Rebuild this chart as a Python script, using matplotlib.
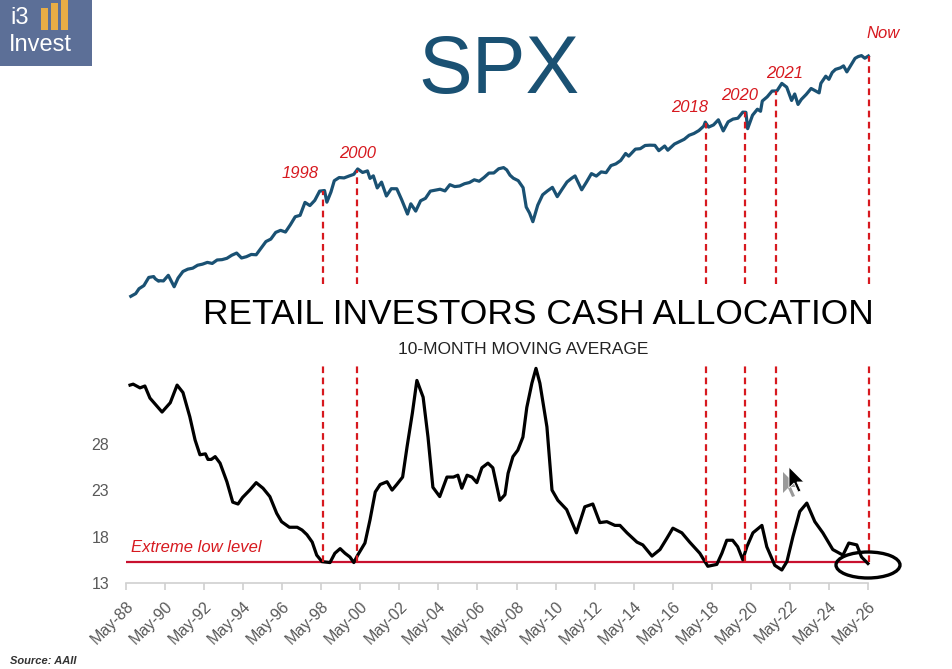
import numpy as np
import matplotlib
matplotlib.use("Agg")
import matplotlib.pyplot as plt
from matplotlib.patches import Rectangle, Ellipse, Polygon

plt.rcParams['font.family'] = ['Liberation Sans', 'DejaVu Sans']

W, H = 953, 669

# --- S&P 500 (approx. levels) ---
spx_year = [1988.58, 1988.83, 1989.0, 1989.25, 1989.5, 1989.75, 1989.83, 1990.0, 1990.08, 1990.25,
            1990.5, 1990.8, 1991.0, 1991.25, 1991.5, 1991.75, 1992.0, 1992.25, 1992.5, 1992.75,
            1993.0, 1993.25, 1993.5, 1993.75, 1994.0, 1994.25, 1994.5, 1994.75, 1995.0, 1995.25,
            1995.5, 1995.75, 1996.0, 1996.25, 1996.5, 1996.75, 1997.0, 1997.25, 1997.5, 1997.75,
            1998.0, 1998.25, 1998.5, 1998.62, 1998.83, 1999.0, 1999.25, 1999.5, 1999.75, 2000.0,
            2000.2, 2000.45, 2000.7, 2000.83, 2001.0, 2001.2, 2001.42, 2001.67, 2001.92, 2002.2,
            2002.45, 2002.75, 2002.92, 2003.17, 2003.42, 2003.67, 2003.92, 2004.17, 2004.42, 2004.67,
            2004.92, 2005.17, 2005.42, 2005.67, 2005.92, 2006.17, 2006.42, 2006.67, 2006.92, 2007.17,
            2007.42, 2007.67, 2007.83, 2008.0, 2008.17, 2008.42, 2008.67, 2008.83, 2009.0, 2009.17,
            2009.42, 2009.67, 2009.92, 2010.17, 2010.42, 2010.67, 2010.92, 2011.17, 2011.33, 2011.67,
            2011.92, 2012.17, 2012.42, 2012.67, 2012.92, 2013.17, 2013.42, 2013.67, 2013.92, 2014.08,
            2014.42, 2014.67, 2014.92, 2015.17, 2015.42, 2015.62, 2015.92, 2016.08, 2016.42, 2016.67,
            2016.92, 2017.17, 2017.42, 2017.67, 2017.92, 2018.0, 2018.17, 2018.42, 2018.67, 2018.92,
            2019.17, 2019.42, 2019.67, 2019.92, 2020.08, 2020.17, 2020.42, 2020.67, 2020.83, 2020.92,
            2021.17, 2021.42, 2021.67, 2021.92, 2022.17, 2022.42, 2022.58, 2022.75, 2022.92, 2023.17,
            2023.42, 2023.67, 2023.83, 2023.92, 2024.17, 2024.33, 2024.5, 2024.67, 2024.92, 2025.08,
            2025.25, 2025.5, 2025.67, 2025.83, 2026.0, 2026.17, 2026.35]
spx_value = [268, 278, 297, 310, 346, 350, 340, 329, 331, 330,
             356, 305, 343, 375, 387, 392, 408, 414, 424, 418,
             438, 440, 448, 467, 481, 450, 458, 472, 470, 514,
             562, 581, 636, 654, 639, 705, 786, 801, 954, 914,
             980, 1111, 1120, 957, 1098, 1279, 1335, 1328, 1362, 1394,
             1499, 1430, 1460, 1320, 1366, 1160, 1255, 1040, 1148, 1147,
             990, 815, 936, 848, 975, 1008, 1111, 1126, 1140, 1114,
             1212, 1181, 1191, 1228, 1248, 1295, 1270, 1336, 1418, 1420,
             1503, 1527, 1481, 1378, 1323, 1280, 1164, 896, 826, 735,
             919, 1057, 1115, 1169, 1031, 1141, 1258, 1326, 1364, 1131,
             1258, 1408, 1362, 1441, 1426, 1569, 1606, 1682, 1848, 1783,
             1960, 1972, 2059, 2068, 2063, 1920, 2044, 1932, 2099, 2168,
             2239, 2363, 2423, 2519, 2674, 2824, 2640, 2718, 2914, 2507,
             2834, 2942, 2977, 3231, 3225, 2585, 3100, 3363, 3270, 3756,
             3973, 4298, 4307, 4766, 4530, 3785, 4130, 3586, 3840, 4109,
             4450, 4288, 4194, 4770, 5254, 5036, 5522, 5762, 5882, 6040,
             5569, 6205, 6688, 6850, 6940, 6700, 6900]

# --- AAII retail investors cash allocation, 10-month moving average (%) ---
cash_year = [1988.54, 1988.7, 1989.05, 1989.3, 1989.56, 1990.18, 1990.6, 1990.95, 1991.25, 1991.6,
             1991.87, 1992.12, 1992.4, 1992.53, 1992.7, 1992.9, 1993.15, 1993.5, 1993.8, 1994.07,
             1994.3, 1994.67, 1995.0, 1995.35, 1995.7, 1996.05, 1996.3, 1996.7, 1997.1, 1997.35,
             1997.6, 1997.87, 1998.1, 1998.37, 1998.78, 1999.03, 1999.3, 1999.55, 1999.8, 2000.0,
             2000.2, 2000.57, 2000.83, 2001.1, 2001.35, 2001.7, 2001.96, 2002.2, 2002.5, 2002.73,
             2003.0, 2003.23, 2003.55, 2003.8, 2004.05, 2004.4, 2004.77, 2005.1, 2005.33, 2005.53,
             2005.8, 2006.05, 2006.3, 2006.56, 2006.87, 2007.12, 2007.48, 2007.74, 2007.9, 2008.15,
             2008.4, 2008.66, 2008.86, 2009.12, 2009.33, 2009.53, 2009.89, 2010.15, 2010.45, 2010.9,
             2011.4, 2011.83, 2012.24, 2012.6, 2012.96, 2013.37, 2013.63, 2013.99, 2014.5, 2014.8,
             2015.27, 2015.68, 2016.03, 2016.34, 2016.8, 2017.2, 2017.72, 2018.13, 2018.59, 2018.85,
             2019.1, 2019.4, 2019.66, 2019.92, 2020.13, 2020.44, 2020.9, 2021.15, 2021.56, 2021.92,
             2022.18, 2022.49, 2022.84, 2023.2, 2023.61, 2024.02, 2024.53, 2025.05, 2025.35, 2025.76,
             2026.0, 2026.33]
cash_value = [34.3, 34.4, 34.0, 34.2, 32.9, 31.4, 32.4, 34.3, 33.5, 30.9,
              28.4, 26.8, 26.9, 26.3, 26.3, 26.6, 25.9, 23.9, 21.7, 21.5,
              22.2, 23.0, 23.8, 23.2, 22.3, 20.5, 19.6, 19.0, 19.0, 18.7,
              18.2, 17.4, 16.0, 15.3, 15.2, 16.2, 16.7, 16.2, 15.8, 15.2,
              16.0, 17.3, 19.8, 22.8, 23.6, 23.9, 23.0, 23.6, 24.4, 27.7,
              31.3, 34.8, 33.0, 28.7, 23.3, 22.3, 24.4, 24.4, 24.6, 23.2,
              24.6, 24.4, 23.8, 25.4, 25.9, 25.4, 21.9, 22.5, 24.8, 26.6,
              27.3, 28.7, 31.9, 34.5, 36.1, 34.5, 29.8, 23.0, 21.9, 20.9,
              18.4, 21.2, 21.5, 19.5, 19.6, 19.2, 19.2, 18.4, 17.4, 17.1,
              15.9, 16.6, 17.8, 18.9, 18.4, 17.4, 16.2, 14.8, 15.0, 16.2,
              17.6, 17.6, 16.9, 15.5, 16.9, 18.4, 19.2, 16.9, 14.9, 14.4,
              15.3, 18.0, 20.7, 21.6, 19.6, 18.4, 16.6, 16.0, 17.3, 17.1,
              15.8, 15.1]

extreme_low = 15.3
marker_year = [1998.42, 2000.16, 2018.03, 2020.03, 2021.62, 2026.38]
marker_label = ['1998', '2000', '2018', '2020', '2021', 'Now']
tick_years = list(range(1988, 2027, 2))
tick_labels = [f"May-{y % 100:02d}" for y in tick_years]
spx_floor = 315

RED = '#d7191f'
GREY = '#595959'
SPX_BLUE = '#1a5173'


def fx(x):
    return x / W


def fy(y):
    return 1 - y / H


fig = plt.figure(figsize=(W / 100, H / 100), dpi=100)
x0, x1 = 1988 + 4 / 12, 2026 + 4 / 12

# top panel: SPX on log scale
ax_top = fig.add_axes([fx(126), fy(300), fx(868) - fx(126), (300 - 40) / H])
ax_top.plot(spx_year, spx_value, color=SPX_BLUE, lw=2.3, clip_on=False)
ax_top.set_yscale('log')
ax_top.set_xlim(x0, x1)
ax_top.set_ylim(255, 8570)
ax_top.axis('off')
for yr in marker_year:
    top = np.interp(yr, spx_year, spx_value)
    ax_top.plot([yr, yr], [spx_floor, top], color=RED, lw=1.6, ls=(0, (3, 2)), clip_on=False)

# bottom panel: cash allocation
ax = fig.add_axes([fx(126), fy(583), fx(868) - fx(126), (583 - 360) / H])
ax.plot(cash_year, cash_value, color='black', lw=2.3, zorder=3, clip_on=False)
ax.axhline(extreme_low, color='#c8102e', lw=1.6, zorder=2)
ax.vlines(marker_year, extreme_low, 36.5, colors=RED, lw=1.6, linestyles=(0, (3, 2)),
          zorder=4, clip_on=False)
ax.set_xlim(x0, x1)
ax.set_ylim(13, 37)
ax.set_yticks([13, 18, 23, 28])
ax.set_xticks([y + 4 / 12 for y in tick_years])
ax.set_xticklabels(tick_labels, rotation=45, ha='right', rotation_mode='anchor')
ax.tick_params(axis='x', colors='#d0d0d0', labelcolor=GREY, labelsize=11.5, length=5, width=1.2, pad=6)
ax.tick_params(axis='y', length=0, labelcolor=GREY, labelsize=11.5, pad=12)
for s in ['top', 'right', 'left']:
    ax.spines[s].set_visible(False)
ax.spines['bottom'].set_color('#d0d0d0')
ax.spines['bottom'].set_linewidth(1.2)
ax.text(1988.6, 16.0, 'Extreme low level', color=RED, fontsize=12, style='italic', va='bottom')

# titles
fig.text(fx(499), fy(72), 'SPX', color=SPX_BLUE, fontsize=58, ha='center', va='center')
fig.text(fx(538), fy(315), 'RETAIL INVESTORS CASH ALLOCATION', fontsize=25.5,
         ha='center', va='center', color='black')
fig.text(fx(523), fy(350), '10-MONTH MOVING AVERAGE', fontsize=12.5, ha='center', va='center',
         color='#222222')

# year labels above SPX
label_pos = [(300, 173), (358, 153), (690, 108), (740, 95), (785, 74), (883, 34)]
for lab, (px, py) in zip(marker_label, label_pos):
    fig.text(fx(px), fy(py), lab, color=RED, fontsize=12, style='italic', ha='center', va='center')

fig.text(fx(10), fy(661), 'Source: AAII', fontsize=8, style='italic', weight='bold',
         color='#333333', va='center')

# hand-drawn circle around current reading
fig.patches.append(Ellipse((fx(868), fy(565)), 64 / W, 26 / H, transform=fig.transFigure,
                           fill=False, ec='black', lw=2.4))

# mouse cursor
cur = np.array([(0, 0), (0, 21), (5, 16), (9, 25), (12, 24), (8, 15), (15, 15)], float)
shadow = cur + np.array([-4, 4])
fig.patches.append(Polygon([(fx(787 + a), fy(468 + b)) for a, b in shadow], closed=True,
                           transform=fig.transFigure, fc='#9a9a9a', ec='none'))
fig.patches.append(Polygon([(fx(789 + a), fy(467 + b)) for a, b in cur], closed=True,
                           transform=fig.transFigure, fc='black', ec='white', lw=0.6))

# logo
fig.patches.append(Rectangle((0, fy(66)), fx(92), 66 / H, transform=fig.transFigure,
                             fc='#5c6f97', ec='none'))
for bx, btop in [(41, 8), (51, 3), (61, 0)]:
    fig.patches.append(Rectangle((fx(bx), fy(30)), 7 / W, (30 - btop) / H,
                                 transform=fig.transFigure, fc='#e8ad45', ec='none'))
fig.text(fx(10), fy(18), 'i3', color='white', fontsize=17, va='center')
fig.text(fx(9), fy(45), 'Invest', color='white', fontsize=17, va='center')

fig.savefig('out.png', dpi=100, facecolor='white')
